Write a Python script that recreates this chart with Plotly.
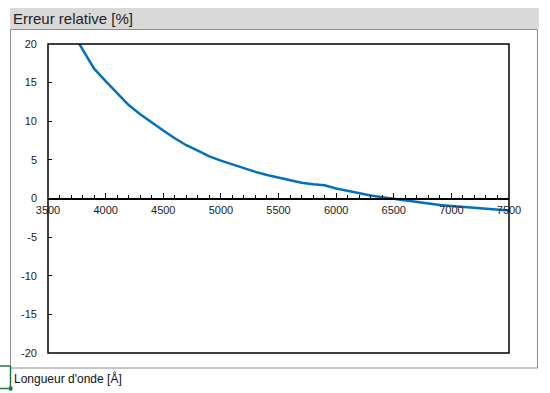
import plotly.graph_objects as go

wavelength = [3700, 3800, 3900, 4000, 4100, 4200, 4300, 4400, 4500, 4600,
              4700, 4800, 4900, 5000, 5100, 5200, 5300, 5400, 5500, 5600,
              5700, 5800, 5900, 6000, 6100, 6200, 6300, 6400, 6500, 6600,
              6700, 6800, 6900, 7000, 7100, 7200, 7300, 7400, 7500]
rel_error = [21.8, 19.3, 16.8, 15.2, 13.6, 12.1, 10.9, 9.8, 8.8, 7.8,
             6.9, 6.2, 5.45, 4.9, 4.4, 3.85, 3.45, 3.05, 2.7, 2.33,
             2.05, 1.85, 1.72, 1.3, 1.0, 0.62, 0.38, 0.15, -0.05, -0.25,
             -0.5, -0.65, -0.85, -0.98, -1.1, -1.22, -1.35, -1.45, -1.55]
x_ticks = [3500, 4000, 4500, 5000, 5500, 6000, 6500, 7000, 7500]
y_ticks = [-20, -15, -10, -5, 0, 5, 10, 15, 20]
y_tick_labels = ["-20", "-15", "-10", "-5", "0", "5", "10", "15", "20"]

W, H = 550, 393
L, R, T, B = 48, 509, 44, 353
pw, ph = R - L, B - T

def px(x):
    return (x - L) / pw

def py(y):
    return (B - y) / ph

fig = go.Figure()
fig.add_trace(go.Scatter(x=wavelength, y=rel_error, mode="lines",
                         line=dict(color="#0070C0", width=2.5),
                         showlegend=False, hoverinfo="skip"))

font_family = "Liberation Sans, Arial, sans-serif"

fig.update_layout(
    width=W, height=H,
    margin=dict(l=L, r=W - R, t=T, b=H - B, pad=0),
    paper_bgcolor="white", plot_bgcolor="white",
    font=dict(family=font_family, size=11, color="#222222"),
    xaxis=dict(range=[3500, 7500], tickvals=x_ticks, ticks="inside",
               ticklen=5, tickwidth=1, tickcolor="black",
               showline=True, linecolor="black", linewidth=1.5,
               showgrid=False, zeroline=False, anchor="free", position=0.5,
               minor=dict(dtick=100, tick0=3500, ticks="inside", ticklen=3,
                          tickcolor="black", tickwidth=1, showgrid=False),
               ticklabelstandoff=2,
               tickfont=dict(size=11, color="#222222")),
    yaxis=dict(range=[-20, 20], tickvals=y_ticks, ticktext=y_tick_labels,
               ticks="inside", ticklen=4, tickwidth=1, tickcolor="black",
               showline=False, showgrid=False, zeroline=False,
               ticklabelstandoff=10,
               tickfont=dict(size=11, color="#222222")),
)

shapes = []
# grey header band
shapes.append(dict(type="rect", xref="paper", yref="paper",
                   x0=px(10), x1=px(539), y0=py(29), y1=py(8),
                   fillcolor="#D9D9D9", line=dict(width=0), layer="below"))
# chart outer border
shapes.append(dict(type="rect", xref="paper", yref="paper",
                   x0=px(10.5), x1=px(537.5), y0=py(368), y1=py(29.5),
                   fillcolor="rgba(0,0,0,0)", line=dict(color="#8C8C8C", width=1)))
# plot frame
shapes.append(dict(type="rect", xref="paper", yref="paper",
                   x0=0, x1=1, y0=0, y1=1,
                   fillcolor="rgba(0,0,0,0)", line=dict(color="black", width=1.5)))
# Excel selection marks
green = "#217346"
shapes.append(dict(type="line", xref="paper", yref="paper",
                   x0=px(10.5), x1=px(10.5), y0=py(366), y1=py(389),
                   line=dict(color=green, width=1.5)))
shapes.append(dict(type="line", xref="paper", yref="paper",
                   x0=px(0), x1=px(10.5), y0=py(366), y1=py(366),
                   line=dict(color=green, width=1.5)))
shapes.append(dict(type="line", xref="paper", yref="paper",
                   x0=px(0), x1=px(10.5), y0=py(388.5), y1=py(388.5),
                   line=dict(color=green, width=1.5)))
shapes.append(dict(type="rect", xref="paper", yref="paper",
                   x0=px(9), x1=px(12.5), y0=py(390.5), y1=py(386.5),
                   fillcolor=green, line=dict(width=0)))
fig.update_layout(shapes=shapes)

fig.add_annotation(text="Erreur relative [%]", xref="paper", yref="paper",
                   x=px(11), y=py(19), xanchor="left", yanchor="middle",
                   showarrow=False, font=dict(size=15, color="#222222", family=font_family))
fig.add_annotation(text="Longueur d'onde [Å]", xref="paper", yref="paper",
                   x=px(12), y=py(378), xanchor="left", yanchor="middle",
                   showarrow=False, font=dict(size=12, color="#111111", family=font_family))

fig.write_html("out.html", config={"displayModeBar": False},
               post_script="document.body.style.margin='0';document.body.style.overflow='hidden';")
